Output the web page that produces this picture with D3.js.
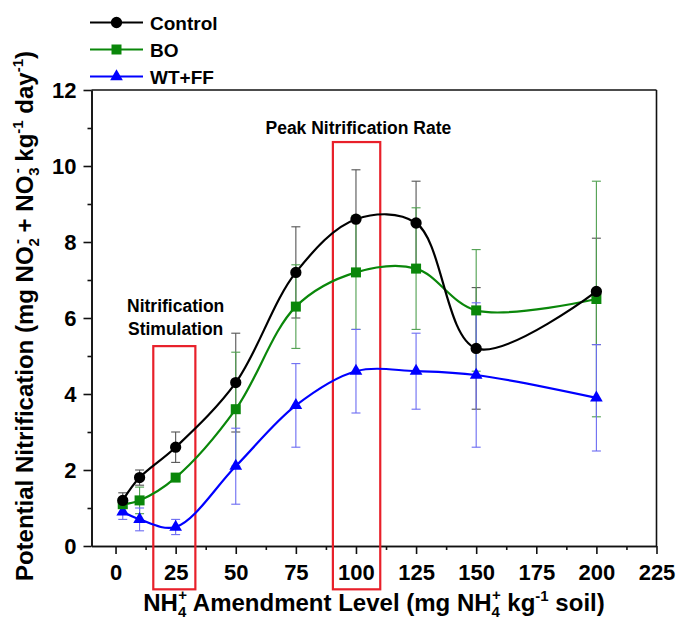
<!DOCTYPE html>
<html>
<head>
<meta charset="utf-8">
<script src="https://cdn.jsdelivr.net/npm/d3@7"></script>
<style>
  body { margin: 0; background: #fff; }
  svg text { font-family: Arial, "Liberation Sans", sans-serif; font-weight: bold; fill: #000; }
</style>
</head>
<body>
<svg id="chart" width="680" height="630"></svg>
<script>
// NH4+ amendment levels (mg NH4+ kg-1 soil)
const levels = [3, 10, 25, 50, 75, 100, 125, 150, 200];

// Potential nitrification, mean and error per treatment
const controlMean = [1.2, 1.8, 2.6, 4.3, 7.2, 8.6, 8.5, 5.2, 6.7];
const controlErr  = [0.2, 0.2, 0.4, 1.3, 1.2, 1.3, 1.1, 1.6, 1.4];
const boMean      = [1.1, 1.2, 1.8, 3.6, 6.3, 7.2, 7.3, 6.2, 6.5];
const boErr       = [0.1, 0.35, 0.1, 1.5, 1.1, 1.5, 1.6, 1.6, 3.1];
const wtffMean    = [0.9, 0.7, 0.5, 2.1, 3.7, 4.6, 4.6, 4.5, 3.9];
const wtffErr     = [0.2, 0.3, 0.2, 1.0, 1.1, 1.1, 1.0, 1.9, 1.4];

const seriesNames = ["Control", "BO", "WT+FF"];

// Axis ticks
const xTicks = [0, 25, 50, 75, 100, 125, 150, 175, 200, 225];
const xMinorTicks = [12.5, 37.5, 62.5, 87.5, 112.5, 137.5, 162.5, 187.5, 212.5];
const yTicks = [0, 2, 4, 6, 8, 10, 12];
const yMinorTicks = [1, 3, 5, 7, 9, 11];

// Highlighted ranges with their captions
const boxRanges = [[15.7, 33.2], [90.4, 110.1]];
const boxTops = [5.26, 10.63];
const boxCaptions = [["Nitrification", "Stimulation"], ["Peak Nitrification Rate"]];

const svg = d3.select("#chart");
const x = d3.scaleLinear().domain([-10, 225]).range([91.5, 656.5]);
const y = d3.scaleLinear().domain([0, 12]).range([546, 90]);

const styles = [
  { color: "#000000", err: "#555555", symbol: d3.symbolCircle, size: 100, fill: "#000000" },
  { color: "#0a870a", err: "#4f9f4f", symbol: d3.symbolSquare, size: 100, fill: "#0a870a" },
  { color: "#0000ff", err: "#6c6cf2", symbol: d3.symbolTriangle, size: 70, fill: "#0000ff" }
];

const series = [
  { name: seriesNames[0], mean: controlMean, err: controlErr, style: styles[0] },
  { name: seriesNames[1], mean: boMean, err: boErr, style: styles[1] },
  { name: seriesNames[2], mean: wtffMean, err: wtffErr, style: styles[2] }
];

// Frame
const frame = svg.append("g");
frame.append("line").attr("x1", x(-10)).attr("x2", x(225)).attr("y1", y(12)).attr("y2", y(12));
frame.append("line").attr("x1", x(225)).attr("x2", x(225)).attr("y1", y(12)).attr("y2", y(0));
frame.selectAll("line").attr("stroke", "#111").attr("stroke-width", 1.6);

// Axes
const axisStyle = g => {
  g.select(".domain").attr("stroke", "#111").attr("stroke-width", 1.6);
  g.selectAll(".tick line").attr("stroke", "#111").attr("stroke-width", 1.6);
  g.selectAll(".tick text").attr("font-size", 22).attr("font-family", "Arial, 'Liberation Sans', sans-serif").attr("font-weight", "bold");
};

svg.append("g")
  .attr("transform", `translate(0,${y(0)})`)
  .call(d3.axisBottom(x).tickValues(xTicks).tickSize(8).tickPadding(10).tickSizeOuter(0))
  .call(axisStyle);
svg.append("g")
  .attr("transform", `translate(0,${y(0)})`)
  .call(d3.axisBottom(x).tickValues(xMinorTicks).tickSize(4).tickFormat("").tickSizeOuter(0))
  .call(axisStyle);

svg.append("g")
  .attr("transform", `translate(${x(-10)},0)`)
  .call(d3.axisLeft(y).tickValues(yTicks).tickSize(8).tickPadding(7).tickSizeOuter(0))
  .call(axisStyle);
svg.append("g")
  .attr("transform", `translate(${x(-10)},0)`)
  .call(d3.axisLeft(y).tickValues(yMinorTicks).tickSize(4).tickFormat("").tickSizeOuter(0))
  .call(axisStyle);

// Highlight boxes
boxRanges.forEach((r, i) => {
  svg.append("rect")
    .attr("x", x(r[0]))
    .attr("y", y(boxTops[i]))
    .attr("width", x(r[1]) - x(r[0]))
    .attr("height", y(-1.14) - y(boxTops[i]))
    .attr("fill", "none")
    .attr("stroke", "#e8202a")
    .attr("stroke-width", 2.2);
});

// Captions
const cap1 = svg.append("text").attr("text-anchor", "middle").attr("font-size", 17.5);
cap1.append("tspan").attr("x", x(25)).attr("y", 311.5).text(boxCaptions[0][0]);
cap1.append("tspan").attr("x", x(25)).attr("y", 335).text(boxCaptions[0][1]);
svg.append("text").attr("text-anchor", "middle").attr("font-size", 17.5)
  .attr("x", x(101)).attr("y", 134).text(boxCaptions[1][0]);

// Error bars
const capHalf = 4.5;
series.forEach(s => {
  const g = svg.append("g").attr("stroke", s.style.err).attr("stroke-width", 1.1);
  levels.forEach((lv, i) => {
    const lo = s.mean[i] - s.err[i], hi = s.mean[i] + s.err[i];
    g.append("line").attr("x1", x(lv)).attr("x2", x(lv)).attr("y1", y(lo)).attr("y2", y(hi));
    g.append("line").attr("x1", x(lv) - capHalf).attr("x2", x(lv) + capHalf).attr("y1", y(lo)).attr("y2", y(lo));
    g.append("line").attr("x1", x(lv) - capHalf).attr("x2", x(lv) + capHalf).attr("y1", y(hi)).attr("y2", y(hi));
  });
});

// Smoothed lines
const line = d3.line()
  .x(d => x(d[0]))
  .y(d => y(d[1]))
  .curve(d3.curveCatmullRom.alpha(0.5));

series.slice().reverse().forEach(s => {
  const pts = levels.map((lv, i) => [lv, s.mean[i]]);
  svg.append("path")
    .attr("d", line(pts))
    .attr("fill", "none")
    .attr("stroke", s.style.color)
    .attr("stroke-width", 2.2);
  svg.append("g").selectAll("path")
    .data(pts)
    .join("path")
    .attr("transform", d => `translate(${x(d[0])},${y(d[1])})`)
    .attr("d", d3.symbol().type(s.style.symbol).size(s.style.size))
    .attr("fill", s.style.fill);
});

// Legend
const legend = svg.append("g");
series.forEach((s, i) => {
  const cy = 22.5 + i * 27;
  legend.append("line").attr("x1", 90).attr("x2", 143).attr("y1", cy).attr("y2", cy)
    .attr("stroke", s.style.color).attr("stroke-width", 2.2);
  legend.append("path").attr("transform", `translate(116.5,${cy})`)
    .attr("d", d3.symbol().type(s.style.symbol).size(s.style.size)).attr("fill", s.style.fill);
  legend.append("text").attr("x", 150).attr("y", cy + 7).attr("font-size", 19).text(s.name);
});

// X axis title
const xt = svg.append("text").attr("text-anchor", "middle").attr("x", 374).attr("y", 611).attr("font-size", 24);
xt.append("tspan").text("NH");
xt.append("tspan").attr("font-size", 15).attr("dy", 6).text("4");
xt.append("tspan").attr("font-size", 15).attr("dx", -8).attr("dy", -17).text("+");
xt.append("tspan").attr("dy", 11).text(" Amendment Level (mg NH");
xt.append("tspan").attr("font-size", 15).attr("dy", 6).text("4");
xt.append("tspan").attr("font-size", 15).attr("dx", -8).attr("dy", -17).text("+");
xt.append("tspan").attr("dy", 11).text(" kg");
xt.append("tspan").attr("font-size", 15).attr("dy", -10).text("-1");
xt.append("tspan").attr("dy", 10).text(" soil)");

// Y axis title
const yt = svg.append("text").attr("text-anchor", "middle")
  .attr("transform", "translate(33,316) rotate(-90)").attr("font-size", 24);
yt.append("tspan").text("Potential Nitrification (mg NO");
yt.append("tspan").attr("font-size", 15).attr("dy", 6).text("2");
yt.append("tspan").attr("font-size", 15).attr("dx", -6).attr("dy", -17).text("-");
yt.append("tspan").attr("dy", 11).text(" + NO");
yt.append("tspan").attr("font-size", 15).attr("dy", 6).text("3");
yt.append("tspan").attr("font-size", 15).attr("dx", -6).attr("dy", -17).text("-");
yt.append("tspan").attr("dy", 11).text(" kg");
yt.append("tspan").attr("font-size", 15).attr("dy", -10).text("-1");
yt.append("tspan").attr("dy", 10).text(" day");
yt.append("tspan").attr("font-size", 15).attr("dy", -10).text("-1");
yt.append("tspan").attr("dy", 10).text(")");
</script>
</body>
</html>
